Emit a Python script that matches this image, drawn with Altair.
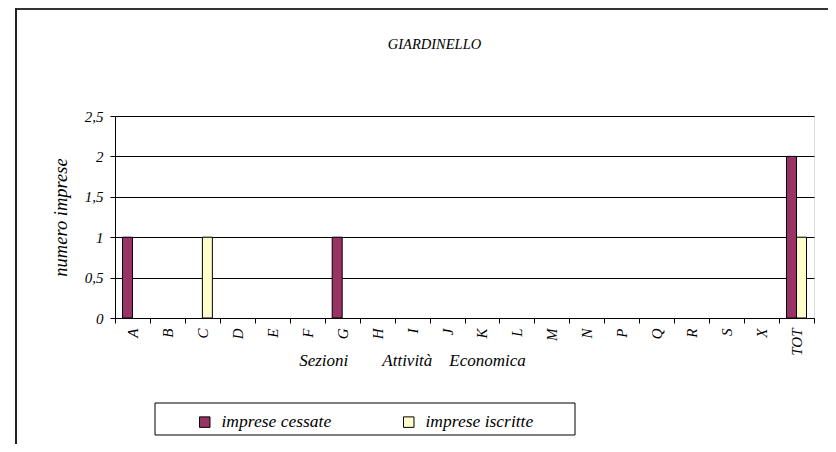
import altair as alt
import pandas as pd

categories = ["A", "B", "C", "D", "E", "F", "G", "H", "I", "J", "K", "L", "M", "N", "P", "Q", "R", "S", "X", "TOT"]
cessate = [1, 0, 0, 0, 0, 0, 1, 0, 0, 0, 0, 0, 0, 0, 0, 0, 0, 0, 0, 2]
iscritte = [0, 0, 1, 0, 0, 0, 0, 0, 0, 0, 0, 0, 0, 0, 0, 0, 0, 0, 0, 1]
series = ["imprese cessate", "imprese iscritte"]
colors = ["#993366", "#FFFFCC"]
y_ticks = [0, 0.5, 1, 1.5, 2, 2.5]

rows = []
for c, a, b in zip(categories, cessate, iscritte):
    rows.append({"sezione": c, "serie": series[0], "valore": a})
    rows.append({"sezione": c, "serie": series[1], "valore": b})
df = pd.DataFrame(rows)

FONT = "Liberation Serif"
NB = "\u00a0"
x_title = "Sezioni" + NB * 8 + "Attività" + NB * 4 + "Economica"

bars = alt.Chart(df).transform_filter("datum.valore > 0").mark_bar(stroke="black", strokeWidth=1).encode(
    x=alt.X("sezione:N", sort=categories,
            scale=alt.Scale(domain=categories, paddingInner=0, paddingOuter=0),
            axis=alt.Axis(title=x_title, labelAngle=270, tickBand="extent",
                          labelFont=FONT, labelFontStyle="italic", labelFontSize=15,
                          labelColor="black", domainColor="black", tickColor="black",
                          tickSize=5, labelPadding=5,
                          titleFont=FONT, titleFontStyle="italic", titleFontSize=17,
                          titleFontWeight="normal", titleColor="black",
                          titleX=297, titleY=47, titleAlign="center",
                          titleBaseline="alphabetic", grid=False)),
    xOffset=alt.XOffset("serie:N", sort=series,
                        scale=alt.Scale(domain=series, paddingInner=0, paddingOuter=0.75)),
    y=alt.Y("valore:Q", scale=alt.Scale(domain=[0, 2.5], nice=False),
            axis=alt.Axis(title="numero imprese", values=y_ticks,
                          labelExpr="replace(toString(datum.value), '.', ',')",
                          labelFont=FONT, labelFontStyle="italic", labelFontSize=15,
                          labelColor="black", domainColor="black", tickColor="black",
                          tickSize=5, labelPadding=7,
                          gridColor="black", gridWidth=1, grid=True,
                          titleFont=FONT, titleFontStyle="italic", titleFontSize=18.5,
                          titleFontWeight="normal", titleColor="black",
                          titlePadding=14)),
    color=alt.Color("serie:N", sort=series,
                    scale=alt.Scale(domain=series, range=colors),
                    legend=alt.Legend(title=None, orient="none", direction="horizontal",
                                      legendX=81, legendY=297,
                                      symbolType="square", symbolSize=110,
                                      symbolStrokeColor="black", symbolStrokeWidth=1,
                                      labelFont=FONT, labelFontStyle="italic",
                                      labelFontSize=17.5, labelColor="black",
                                      columnPadding=68, labelOffset=8, padding=0)),
)

legend_box = alt.Chart(alt.Data(values=[{}])).mark_rect(
    fill=None, stroke="black", strokeWidth=1
).encode(x=alt.value(40), x2=alt.value(460), y=alt.value(287), y2=alt.value(319))

frame_top = alt.Chart(alt.Data(values=[{}])).mark_rule(
    stroke="#333333", strokeWidth=2
).encode(x=alt.value(-100), x2=alt.value(720), y=alt.value(-107))

frame_left = alt.Chart(alt.Data(values=[{}])).mark_rule(
    stroke="#222222", strokeWidth=2
).encode(x=alt.value(-99), y=alt.value(-108), y2=alt.value(340))

title = alt.Chart(alt.Data(values=[{}])).mark_text(
    text="GIARDINELLO", font=FONT, fontStyle="italic", fontSize=14.5, color="black",
    align="center", baseline="middle"
).encode(x=alt.value(319.5), y=alt.value(-71.5))

chart = alt.layer(frame_top, frame_left, legend_box, title, bars).properties(
    width=699, height=202,
    autosize=alt.AutoSizeParams(type="none"),
    padding={"left": 107, "top": 108, "right": 14, "bottom": 126},
).configure_view(stroke="#808080", strokeWidth=1.5).configure(background="white")

chart.save("out.html", embed_options={"renderer": "svg", "actions": False})
